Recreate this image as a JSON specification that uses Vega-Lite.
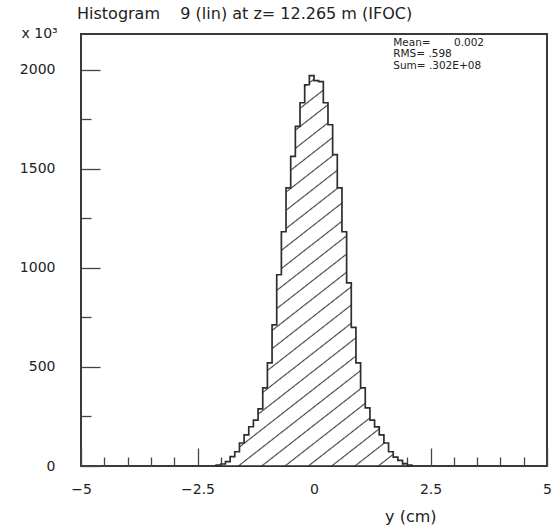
{
  "$schema": "https://vega.github.io/schema/vega-lite/v6.json",
  "width": 466,
  "height": 432,
  "autosize": {"type": "none"},
  "padding": {"left": 81, "top": 34, "right": 11, "bottom": 61},
  "background": "white",
  "config": {
    "view": {"stroke": "#3a3a3a", "strokeWidth": 2},
    "font": "DejaVu Sans",
    "axis": {
      "domain": false,
      "grid": false,
      "labelFont": "DejaVu Sans",
      "labelColor": "#222",
      "labelFontSize": 14,
      "tickColor": "#444",
      "tickWidth": 1.3,
      "titleFont": "DejaVu Sans",
      "titleFontWeight": "normal",
      "titleColor": "#222",
      "labelOverlap": false,
      "labelFlush": false
    }
  },
  "title": {
    "text": "Histogram\u00a0\u00a0\u00a0\u00a09 (lin) at z= 12.265 m (IFOC)",
    "anchor": "start",
    "frame": "group",
    "font": "DejaVu Sans",
    "fontSize": 16,
    "fontWeight": "normal",
    "color": "#222",
    "baseline": "alphabetic",
    "offset": 7,
    "dx": -4,
    "dy": 16
  },
  "resolve": {"axis": {"x": "independent", "y": "independent"}},
  "data": {
    "values": [
      {"y_cm": -2.1, "entries": 4},
      {"y_cm": -2.0, "entries": 10},
      {"y_cm": -1.9, "entries": 22},
      {"y_cm": -1.8, "entries": 47},
      {"y_cm": -1.7, "entries": 72},
      {"y_cm": -1.6, "entries": 116},
      {"y_cm": -1.5, "entries": 157},
      {"y_cm": -1.4, "entries": 198},
      {"y_cm": -1.3, "entries": 232},
      {"y_cm": -1.2, "entries": 288},
      {"y_cm": -1.1, "entries": 394},
      {"y_cm": -1.0, "entries": 520},
      {"y_cm": -0.9, "entries": 712},
      {"y_cm": -0.8, "entries": 965},
      {"y_cm": -0.7, "entries": 1182},
      {"y_cm": -0.6, "entries": 1404},
      {"y_cm": -0.5, "entries": 1562},
      {"y_cm": -0.4, "entries": 1714},
      {"y_cm": -0.3, "entries": 1833},
      {"y_cm": -0.2, "entries": 1924},
      {"y_cm": -0.1, "entries": 1970},
      {"y_cm": 0.0, "entries": 1945},
      {"y_cm": 0.1, "entries": 1940},
      {"y_cm": 0.2, "entries": 1833},
      {"y_cm": 0.3, "entries": 1722},
      {"y_cm": 0.4, "entries": 1571},
      {"y_cm": 0.5, "entries": 1404},
      {"y_cm": 0.6, "entries": 1182},
      {"y_cm": 0.7, "entries": 924},
      {"y_cm": 0.8, "entries": 700},
      {"y_cm": 0.9, "entries": 520},
      {"y_cm": 1.0, "entries": 394},
      {"y_cm": 1.1, "entries": 293},
      {"y_cm": 1.2, "entries": 232},
      {"y_cm": 1.3, "entries": 197},
      {"y_cm": 1.4, "entries": 157},
      {"y_cm": 1.5, "entries": 116},
      {"y_cm": 1.6, "entries": 72},
      {"y_cm": 1.7, "entries": 45},
      {"y_cm": 1.8, "entries": 28},
      {"y_cm": 1.9, "entries": 12},
      {"y_cm": 2.0, "entries": 4},
      {"y_cm": 2.1, "entries": 0}
    ]
  },
  "layer": [
    {
      "mark": {
        "type": "area",
        "interpolate": "step-after",
        "stroke": "#2e2e2e",
        "strokeWidth": 1.7,
        "fill": {
          "gradient": "linear",
          "x1": 0, "y1": 0, "x2": 0.4726, "y2": 1.2066,
          "stops": [
            {"offset": 0, "color": "#ffffff"},
            {"offset": 0.0106, "color": "#ffffff"}, {"offset": 0.0132, "color": "#444444"}, {"offset": 0.0158, "color": "#ffffff"},
            {"offset": 0.0441, "color": "#ffffff"}, {"offset": 0.0467, "color": "#444444"}, {"offset": 0.0493, "color": "#ffffff"},
            {"offset": 0.0777, "color": "#ffffff"}, {"offset": 0.0803, "color": "#444444"}, {"offset": 0.0829, "color": "#ffffff"},
            {"offset": 0.1112, "color": "#ffffff"}, {"offset": 0.1138, "color": "#444444"}, {"offset": 0.1164, "color": "#ffffff"},
            {"offset": 0.1447, "color": "#ffffff"}, {"offset": 0.1473, "color": "#444444"}, {"offset": 0.1499, "color": "#ffffff"},
            {"offset": 0.1782, "color": "#ffffff"}, {"offset": 0.1808, "color": "#444444"}, {"offset": 0.1834, "color": "#ffffff"},
            {"offset": 0.2117, "color": "#ffffff"}, {"offset": 0.2143, "color": "#444444"}, {"offset": 0.2169, "color": "#ffffff"},
            {"offset": 0.2452, "color": "#ffffff"}, {"offset": 0.2478, "color": "#444444"}, {"offset": 0.2504, "color": "#ffffff"},
            {"offset": 0.2788, "color": "#ffffff"}, {"offset": 0.2814, "color": "#444444"}, {"offset": 0.2840, "color": "#ffffff"},
            {"offset": 0.3123, "color": "#ffffff"}, {"offset": 0.3149, "color": "#444444"}, {"offset": 0.3175, "color": "#ffffff"},
            {"offset": 0.3458, "color": "#ffffff"}, {"offset": 0.3484, "color": "#444444"}, {"offset": 0.3510, "color": "#ffffff"},
            {"offset": 0.3793, "color": "#ffffff"}, {"offset": 0.3819, "color": "#444444"}, {"offset": 0.3845, "color": "#ffffff"},
            {"offset": 0.4128, "color": "#ffffff"}, {"offset": 0.4154, "color": "#444444"}, {"offset": 0.4180, "color": "#ffffff"},
            {"offset": 0.4464, "color": "#ffffff"}, {"offset": 0.4490, "color": "#444444"}, {"offset": 0.4516, "color": "#ffffff"},
            {"offset": 0.4799, "color": "#ffffff"}, {"offset": 0.4825, "color": "#444444"}, {"offset": 0.4851, "color": "#ffffff"},
            {"offset": 0.5134, "color": "#ffffff"}, {"offset": 0.5160, "color": "#444444"}, {"offset": 0.5186, "color": "#ffffff"},
            {"offset": 0.5469, "color": "#ffffff"}, {"offset": 0.5495, "color": "#444444"}, {"offset": 0.5521, "color": "#ffffff"},
            {"offset": 0.5804, "color": "#ffffff"}, {"offset": 0.5830, "color": "#444444"}, {"offset": 0.5856, "color": "#ffffff"},
            {"offset": 0.6139, "color": "#ffffff"}, {"offset": 0.6165, "color": "#444444"}, {"offset": 0.6191, "color": "#ffffff"},
            {"offset": 0.6475, "color": "#ffffff"}, {"offset": 0.6501, "color": "#444444"}, {"offset": 0.6527, "color": "#ffffff"},
            {"offset": 0.6810, "color": "#ffffff"}, {"offset": 0.6836, "color": "#444444"}, {"offset": 0.6862, "color": "#ffffff"},
            {"offset": 0.7145, "color": "#ffffff"}, {"offset": 0.7171, "color": "#444444"}, {"offset": 0.7197, "color": "#ffffff"},
            {"offset": 0.7480, "color": "#ffffff"}, {"offset": 0.7506, "color": "#444444"}, {"offset": 0.7532, "color": "#ffffff"},
            {"offset": 0.7815, "color": "#ffffff"}, {"offset": 0.7841, "color": "#444444"}, {"offset": 0.7867, "color": "#ffffff"},
            {"offset": 0.8150, "color": "#ffffff"}, {"offset": 0.8176, "color": "#444444"}, {"offset": 0.8202, "color": "#ffffff"},
            {"offset": 0.8486, "color": "#ffffff"}, {"offset": 0.8512, "color": "#444444"}, {"offset": 0.8538, "color": "#ffffff"},
            {"offset": 0.8821, "color": "#ffffff"}, {"offset": 0.8847, "color": "#444444"}, {"offset": 0.8873, "color": "#ffffff"},
            {"offset": 0.9156, "color": "#ffffff"}, {"offset": 0.9182, "color": "#444444"}, {"offset": 0.9208, "color": "#ffffff"},
            {"offset": 0.9491, "color": "#ffffff"}, {"offset": 0.9517, "color": "#444444"}, {"offset": 0.9543, "color": "#ffffff"},
            {"offset": 0.9826, "color": "#ffffff"}, {"offset": 0.9852, "color": "#444444"}, {"offset": 0.9878, "color": "#ffffff"},
            {"offset": 1, "color": "#ffffff"}
          ]
        }
      },
      "encoding": {
        "x": {
          "field": "y_cm",
          "type": "quantitative",
          "scale": {"domain": [-5, 5], "nice": false, "zero": false},
          "axis": {
            "orient": "bottom",
            "values": [-5, -2.5, 0, 2.5, 5],
            "format": ".1~f",
            "tickSize": -18,
            "labelPadding": 34,
            "title": "y (cm)",
            "titleFontSize": 16,
            "titleAnchor": null,
            "titleAlign": "right",
            "titleBaseline": "alphabetic",
            "titleX": 355,
            "titleY": 55
          }
        },
        "y": {
          "field": "entries",
          "type": "quantitative",
          "scale": {"domain": [0, 2180], "nice": false},
          "axis": {
            "orient": "left",
            "values": [0, 500, 1000, 1500, 2000],
            "format": "d",
            "tickSize": -19,
            "labelPadding": 45,
            "title": "x 10³",
            "titleFontSize": 14,
            "titleAngle": 0,
            "titleAnchor": null,
            "titleAlign": "left",
            "titleBaseline": "alphabetic",
            "titleX": -60,
            "titleY": 3
          }
        }
      }
    },
    {
      "data": {"values": [{"box": "stats"}]},
      "mark": {
        "type": "text",
        "align": "left",
        "baseline": "top",
        "font": "DejaVu Sans",
        "fontSize": 10.5,
        "lineHeight": 11.5,
        "color": "#222"
      },
      "encoding": {
        "x": {
          "datum": 1.7,
          "type": "quantitative",
          "scale": {"domain": [-5, 5], "nice": false, "zero": false},
          "axis": {
            "orient": "bottom",
            "values": [-4.5, -4, -3.5, -3, -2, -1.5, -1, -0.5, 0.5, 1, 1.5, 2, 3, 3.5, 4, 4.5],
            "labels": false,
            "tickSize": -9,
            "title": null
          }
        },
        "y": {
          "datum": 2162,
          "type": "quantitative",
          "scale": {"domain": [0, 2180], "nice": false},
          "axis": {
            "orient": "left",
            "values": [250, 750, 1250, 1750],
            "labels": false,
            "tickSize": -10,
            "title": null
          }
        },
        "text": {"value": ["Mean=\u00a0\u00a0\u00a0\u00a0\u00a0\u00a0\u00a00.002", "RMS= .598", "Sum= .302E+08"]}
      }
    }
  ]
}
